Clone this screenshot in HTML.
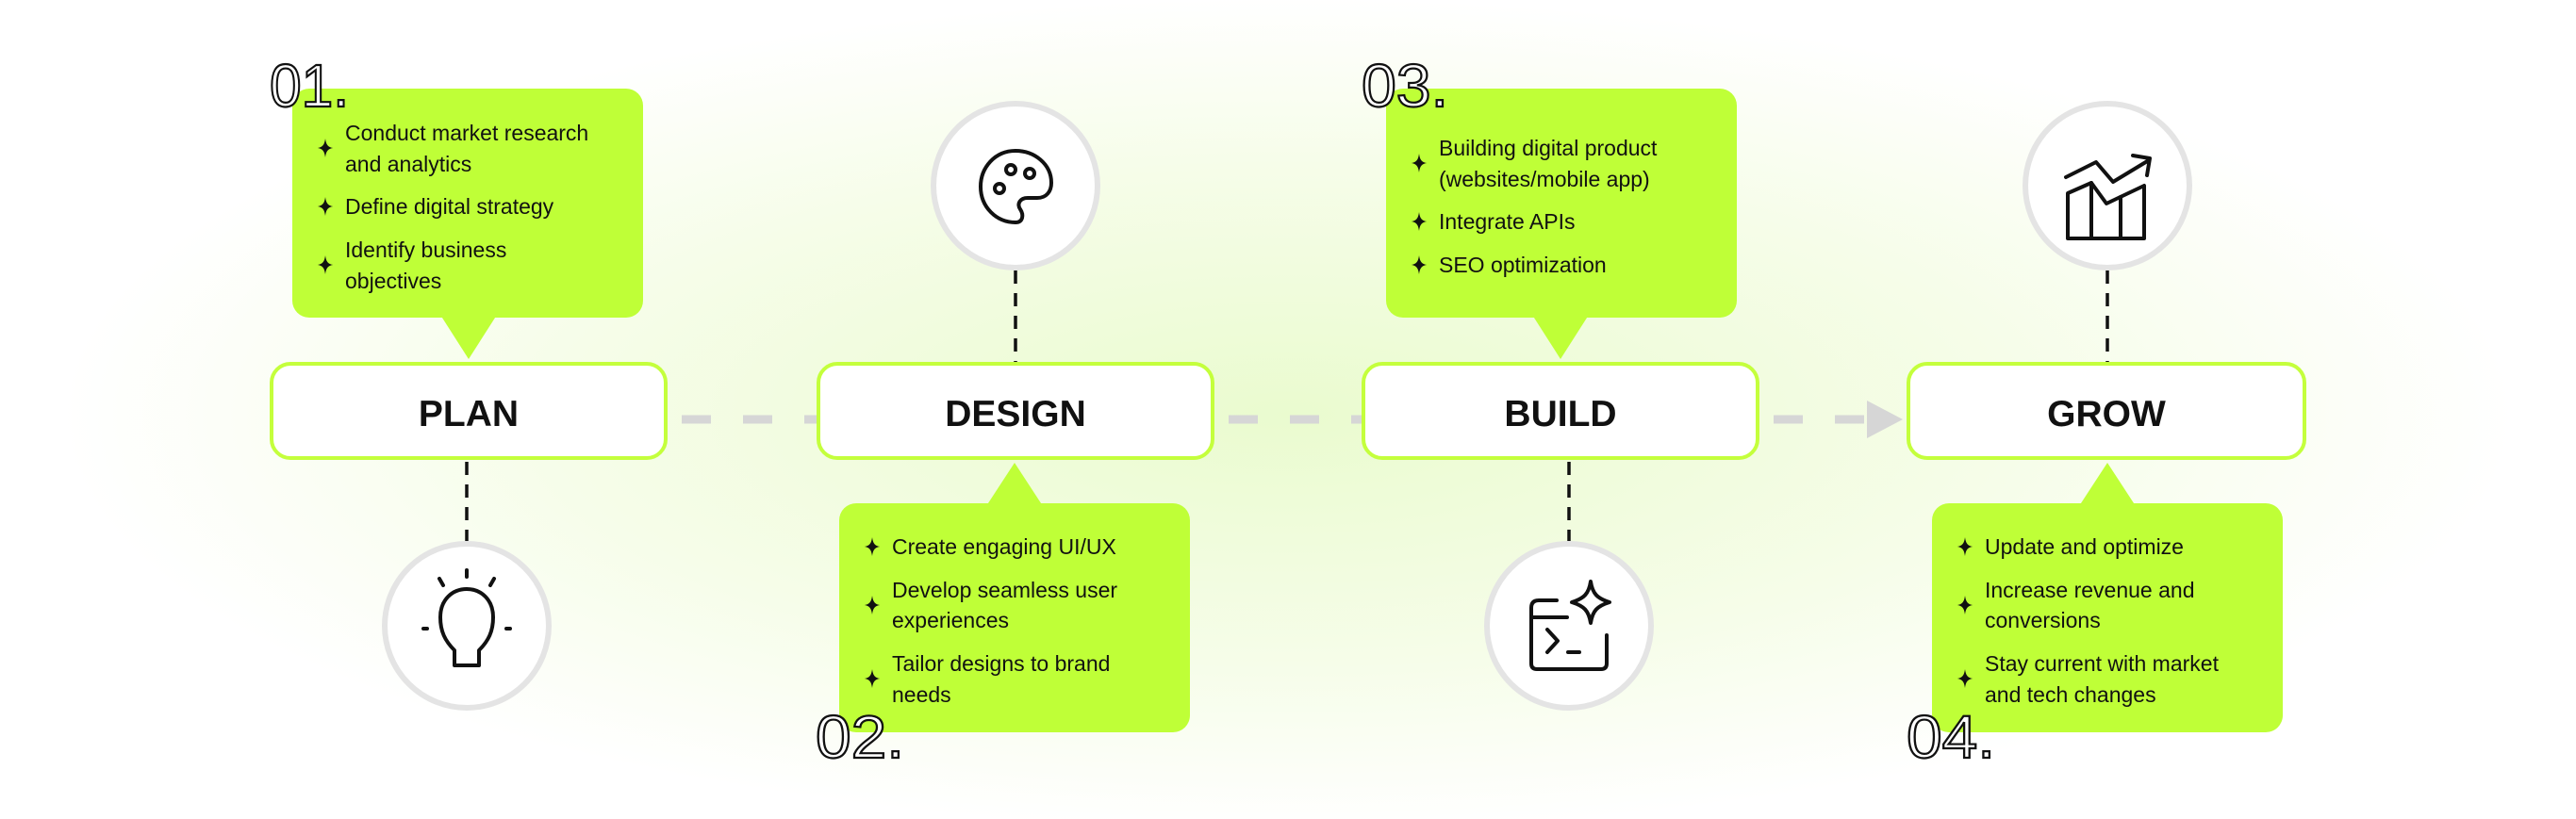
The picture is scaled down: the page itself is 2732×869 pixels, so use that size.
<!DOCTYPE html>
<html><head><meta charset="utf-8"><style>
html,body{margin:0;padding:0;width:2732px;height:869px;overflow:hidden;background:#fff}
svg{display:block}
text{font-family:"Liberation Sans",sans-serif}
</style></head><body>
<svg width="2732" height="869" viewBox="0 0 2732 869" xmlns="http://www.w3.org/2000/svg">
<defs>
<radialGradient id="bg" cx="1366" cy="440" r="1300" gradientUnits="userSpaceOnUse" gradientTransform="translate(0,440) scale(1,0.34) translate(0,-440)">
<stop offset="0" stop-color="#eafbcf"/><stop offset="0.6" stop-color="#f6fde9"/><stop offset="1" stop-color="#ffffff"/>
</radialGradient>
<path id="star" d="M0,-10 C1,-3 3,-1 8,0 C3,1 1,3 0,10 C-1,3 -3,1 -8,0 C-3,-1 -1,-3 0,-10Z" fill="#111"/>
</defs>
<rect width="2732" height="869" fill="url(#bg)"/>

<!-- horizontal connectors -->
<g stroke="#d6d6d6" stroke-width="9">
<line x1="707" y1="445" x2="866" y2="445" stroke-dasharray="31 34" stroke-dashoffset="-16"/>
<line x1="1287" y1="445" x2="1444" y2="445" stroke-dasharray="31 34" stroke-dashoffset="-16"/>
<line x1="1865" y1="445" x2="1978" y2="445" stroke-dasharray="31 34" stroke-dashoffset="-16"/>
</g>
<polygon points="1980,425 2018,445 1980,465" fill="#d6d6d6"/>

<!-- vertical connectors -->
<g stroke="#111" stroke-width="3.5" stroke-dasharray="14 10">
<line x1="495" y1="490" x2="495" y2="574"/>
<line x1="1077" y1="287" x2="1077" y2="384"/>
<line x1="1664" y1="490" x2="1664" y2="574"/>
<line x1="2235" y1="287" x2="2235" y2="384"/>
</g>

<!-- boxes -->
<g fill="#fff" stroke="#c4ff3c" stroke-width="4">
<rect x="288" y="386" width="418" height="100" rx="20"/>
<rect x="868" y="386" width="418" height="100" rx="20"/>
<rect x="1446" y="386" width="418" height="100" rx="20"/>
<rect x="2024" y="386" width="420" height="100" rx="20"/>
</g>
<g font-size="39" font-weight="bold" fill="#111" text-anchor="middle">
<text x="497" y="452">PLAN</text>
<text x="1077" y="452">DESIGN</text>
<text x="1655" y="452">BUILD</text>
<text x="2234" y="452">GROW</text>
</g>

<!-- circles -->
<g fill="#fff" stroke="#e4e4e4" stroke-width="6">
<circle cx="495" cy="664" r="87"/>
<circle cx="1077" cy="197" r="87"/>
<circle cx="1664" cy="664" r="87"/>
<circle cx="2235" cy="197" r="87"/>
</g>

<!-- icons -->
<g fill="none" stroke="#111" stroke-width="4" stroke-linecap="round" stroke-linejoin="round">
<!-- bulb -->
<path d="M482,706 L482,690 C472,680 467,670 467,655 C467,636 480,625 495,625 C510,625 523,636 523,655 C523,670 518,680 508,690 L508,706 Z"/>
<line x1="495" y1="605" x2="495" y2="612"/><line x1="466" y1="614" x2="470" y2="621"/><line x1="524" y1="614" x2="520" y2="621"/>
<line x1="449" y1="667" x2="453" y2="667"/><line x1="537" y1="667" x2="541" y2="667"/>
<!-- palette -->
<path d="M1077,160 C1055,160 1040,178 1040,198 C1040,220 1057,236 1077,236 C1085,236 1086,228 1082,222 C1078,216 1082,210 1090,210 L1100,210 C1110,210 1115,203 1115,194 C1115,174 1097,160 1077,160 Z"/>
<circle cx="1060" cy="200" r="5"/><circle cx="1072" cy="180" r="5"/><circle cx="1092" cy="184" r="5"/>
<!-- code sparkle -->
<path d="M1651,637 L1632,637 Q1624,637 1624,645 L1624,704 Q1624,710 1630,710 L1698,710 Q1704,710 1704,704 L1704,674"/>
<line x1="1624" y1="655" x2="1662" y2="655"/>
<polyline points="1641,668 1652,680 1641,692"/><line x1="1663" y1="692" x2="1675" y2="692"/>
<path d="M1687,617 C1689,630 1694,635 1707,639 C1694,643 1689,648 1687,661 C1685,648 1680,643 1667,639 C1680,635 1685,630 1687,617 Z"/>
<!-- chart -->
<polyline points="2191,188 2223,172 2241,193 2279,170"/>
<polyline points="2262,165 2280,168 2277,186"/>
<path d="M2193,253 L2193,205 L2218,194 L2234,216 L2274,197 L2274,253 Z"/>
<line x1="2218" y1="194" x2="2218" y2="253"/><line x1="2249" y1="209" x2="2249" y2="253"/>
</g>

<!-- callouts -->
<g fill="#bfff37">
<rect x="310" y="94" width="372" height="243" rx="18"/>
<polygon points="467,334 527,334 497,381"/>
<rect x="1470" y="94" width="372" height="243" rx="18"/>
<polygon points="1625,334 1685,334 1655,381"/>
<rect x="890" y="534" width="372" height="243" rx="18"/>
<polygon points="1046,537 1106,537 1076,491"/>
<rect x="2049" y="534" width="372" height="243" rx="18"/>
<polygon points="2205,537 2265,537 2235,491"/>
</g>

<g font-size="23" fill="#111">
<text x="366" y="149">Conduct market research</text>
<text x="366" y="182">and analytics</text>
<text x="366" y="227">Define digital strategy</text>
<text x="366" y="273">Identify business</text>
<text x="366" y="306">objectives</text>

<text x="1526" y="165">Building digital product</text>
<text x="1526" y="198">(websites/mobile app)</text>
<text x="1526" y="243">Integrate APIs</text>
<text x="1526" y="289">SEO optimization</text>

<text x="946" y="588">Create engaging UI/UX</text>
<text x="946" y="634">Develop seamless user</text>
<text x="946" y="666">experiences</text>
<text x="946" y="712">Tailor designs to brand</text>
<text x="946" y="745">needs</text>

<text x="2105" y="588">Update and optimize</text>
<text x="2105" y="634">Increase revenue and</text>
<text x="2105" y="666">conversions</text>
<text x="2105" y="712">Stay current with market</text>
<text x="2105" y="745">and tech changes</text>
</g>
<g>
<use href="#star" x="345" y="157"/><use href="#star" x="345" y="219"/><use href="#star" x="345" y="281"/>
<use href="#star" x="1505" y="173"/><use href="#star" x="1505" y="235"/><use href="#star" x="1505" y="281"/>
<use href="#star" x="925" y="580"/><use href="#star" x="925" y="642"/><use href="#star" x="925" y="720"/>
<use href="#star" x="2084" y="580"/><use href="#star" x="2084" y="642"/><use href="#star" x="2084" y="720"/>
</g>

<!-- numbers -->
<g font-size="64" fill="#fff" stroke="#111" stroke-width="2.2">
<text x="286" y="113" textLength="84" lengthAdjust="spacingAndGlyphs">01.</text>
<text x="1444" y="113" textLength="92" lengthAdjust="spacingAndGlyphs">03.</text>
<text x="865" y="804" textLength="94" lengthAdjust="spacingAndGlyphs">02.</text>
<text x="2022" y="804" textLength="94" lengthAdjust="spacingAndGlyphs">04.</text>
</g>
</svg>
</body></html>
